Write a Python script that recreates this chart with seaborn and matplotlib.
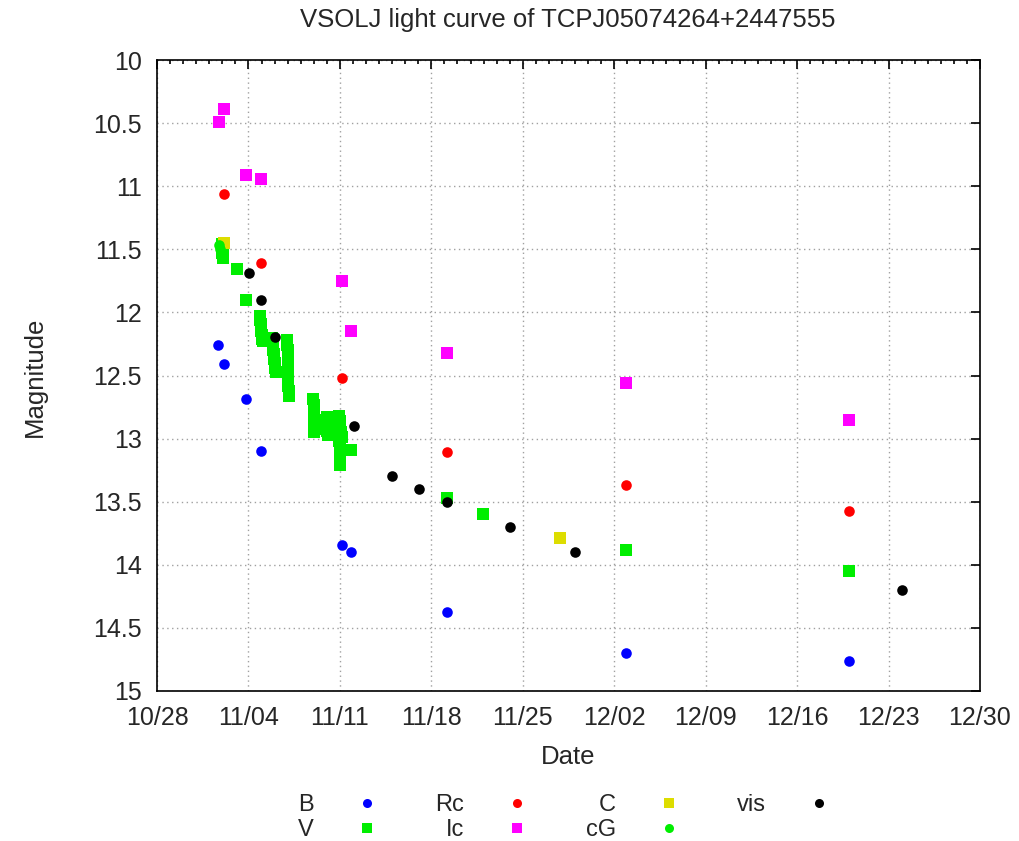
import numpy as np
import pandas as pd
import matplotlib
matplotlib.use("Agg")
import matplotlib.pyplot as plt
from matplotlib.lines import Line2D
import matplotlib.dates as mdates
import seaborn as sns

START = "2016-10-28"

# days after 10/28 (UT) and magnitudes, per band
B_day = [4.70, 5.13, 6.81, 7.96, 14.15, 14.87, 22.17, 35.88, 52.95]
B_mag = [12.26, 12.405, 12.69, 13.10, 13.84, 13.90, 14.377, 14.70, 14.76]

V_day = [4.95, 5.00, 5.05, 5.02, 4.98, 5.05, 5.08,
         6.12, 6.81,
         7.88, 7.90, 7.93, 7.96, 7.99, 8.02, 8.05, 8.08,
         8.80, 8.83, 8.86, 8.90, 8.93, 8.96, 9.00, 9.04, 9.08,
         9.95, 9.97, 9.99, 10.01, 10.03, 10.00, 10.02, 10.04, 10.06, 10.05, 10.07, 10.08,
         11.95, 12.00, 12.05, 12.02, 12.08, 12.05, 12.10, 11.98,
         13.00, 13.05, 13.08, 13.03, 13.06,
         13.95, 13.98, 14.00, 14.02, 14.00, 13.97, 14.03, 14.01, 13.99, 14.02, 14.00, 14.12, 14.14,
         14.87, 22.17, 24.92, 35.88, 52.95]
V_mag = [11.46, 11.47, 11.49, 11.51, 11.53, 11.55, 11.57,
         11.656, 11.90,
         12.03, 12.06, 12.09, 12.12, 12.15, 12.18, 12.21, 12.23,
         12.20, 12.23, 12.27, 12.30, 12.33, 12.37, 12.40, 12.44, 12.47,
         12.22, 12.26, 12.30, 12.34, 12.38, 12.42, 12.46, 12.50, 12.54, 12.58, 12.62, 12.66,
         12.69, 12.73, 12.77, 12.81, 12.85, 12.89, 12.92, 12.95,
         12.83, 12.86, 12.90, 12.94, 12.97,
         12.82, 12.86, 12.90, 12.94, 12.98, 13.02, 13.06, 13.10, 13.14, 13.18, 13.21, 12.95, 12.99,
         13.088, 13.473, 13.60, 13.879, 14.05]

Rc_day = [5.13, 7.96, 14.15, 22.17, 35.88, 52.95]
Rc_mag = [11.06, 11.61, 12.52, 13.107, 13.368, 13.571]

Ic_day = [4.74, 5.13, 6.81, 7.96, 14.15, 14.87, 22.17, 35.88, 52.95]
Ic_mag = [10.49, 10.39, 10.91, 10.94, 11.75, 12.146, 12.318, 12.563, 12.85]

C_day = [5.16, 30.83]
C_mag = [11.45, 13.787]

cG_day = [4.78, 4.85]
cG_mag = [11.465, 11.50]

vis_day = [7.04, 7.96, 9.00, 15.05, 18.00, 20.02, 22.17, 27.03, 32.00, 57.02]
vis_mag = [11.69, 11.90, 12.197, 12.898, 13.30, 13.396, 13.50, 13.697, 13.90, 14.20]

band_names = ["B", "V", "Rc", "Ic", "C", "cG", "vis"]
band_days = [B_day, V_day, Rc_day, Ic_day, C_day, cG_day, vis_day]
band_mags = [B_mag, V_mag, Rc_mag, Ic_mag, C_mag, cG_mag, vis_mag]
band_colors = ["#0000ff", "#00ee00", "#ff0000", "#ff00ff", "#dddd00", "#00ee00", "#000000"]
band_markers = ["o", "s", "o", "s", "s", "o", "o"]

y_ticks = [10, 10.5, 11, 11.5, 12, 12.5, 13, 13.5, 14, 14.5, 15]
y_tick_labels = ["10", "10.5", "11", "11.5", "12", "12.5", "13", "13.5", "14", "14.5", "15"]

sns.set_theme(style="white")
plt.rcParams["font.family"] = ["Liberation Sans", "DejaVu Sans"]

W, H = 1019, 841
fig = plt.figure(figsize=(W / 100, H / 100), dpi=100)
ax = fig.add_axes([157 / W, 1 - 691 / H, (980 - 157) / W, (691 - 60) / H])

t0 = pd.Timestamp(START)
for name, d, m, col, mk in zip(band_names, band_days, band_mags, band_colors, band_markers):
    df = pd.DataFrame({"date": t0 + pd.to_timedelta(d, unit="D"), "mag": m})
    sns.scatterplot(data=df, x="date", y="mag", ax=ax, color=col, marker=mk,
                    s=64 if mk == "s" else 58, linewidth=0, legend=False, zorder=3)

ax.set_xlim(pd.Timestamp("2016-10-28"), pd.Timestamp("2016-12-30"))
ax.set_xticks(pd.date_range("2016-10-28", "2016-12-30", freq="7D"))
ax.set_xticks(pd.date_range("2016-10-28", "2016-12-30", freq="D"), minor=True)
ax.xaxis.set_major_formatter(mdates.DateFormatter("%m/%d"))
ax.set_ylim(15, 10)
ax.set_yticks(y_ticks)
ax.set_yticklabels(y_tick_labels)
ax.set_xlabel("")
ax.set_ylabel("")

ax.set_axisbelow(True)
ax.grid(True, which="major", color="#a0a0a0", linestyle=(0, (1, 2.5)), linewidth=1.0)
for s in ax.spines.values():
    s.set_visible(True)
    s.set_color("black")
    s.set_linewidth(1.2)
ax.tick_params(which="both", direction="in", top=True, right=True, color="black", width=1.2)
ax.tick_params(which="major", length=6.5, labelsize=18, pad=11)
ax.tick_params(which="minor", length=3)

fig.text(568 / W, 1 - 20 / H, "VSOLJ light curve of TCPJ05074264+2447555",
         ha="center", va="center", fontsize=18.5)
fig.text(35 / W, 1 - 377 / H, "Magnitude", ha="center", va="center", rotation=90, fontsize=18.5)
fig.text(568 / W, 1 - 757 / H, "Date", ha="center", va="center", fontsize=18.5)

handles = [Line2D([], [], linestyle="none", marker=mk, color=col, markersize=6.5, markeredgewidth=0)
           for col, mk in zip(band_colors, band_markers)]
fig.legend(handles, band_names, ncol=4, markerfirst=False, frameon=False, loc="center",
           bbox_to_anchor=(564.5 / W, 1 - 817.5 / H), fontsize=17, handlelength=1.0,
           handletextpad=1.75, columnspacing=2.4, labelspacing=0.13, borderpad=0, borderaxespad=0)

fig.savefig("out.png", dpi=100)
